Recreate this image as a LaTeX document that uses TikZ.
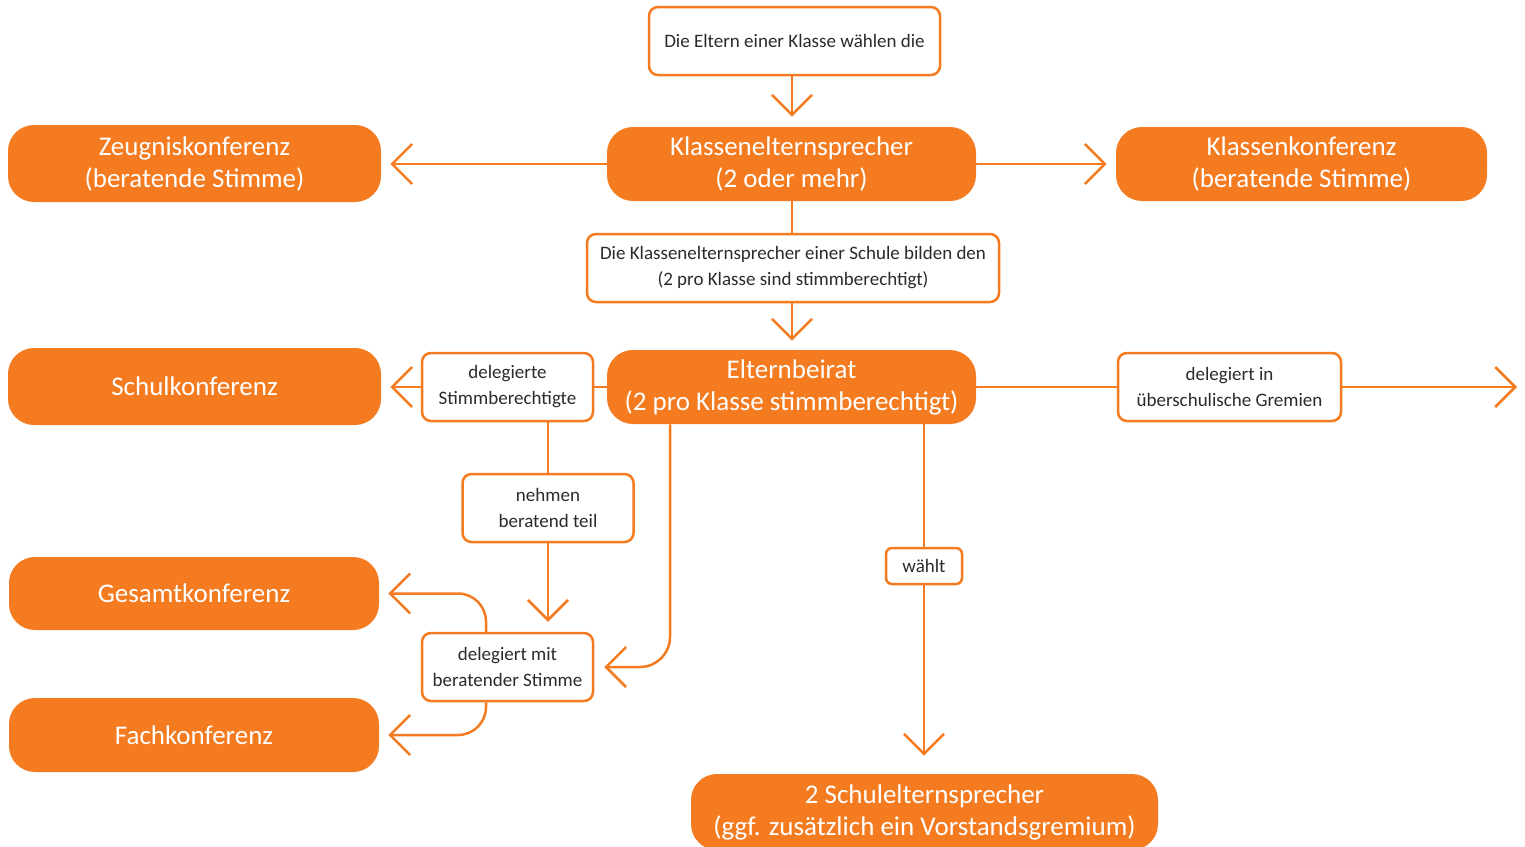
\documentclass[tikz,border=0pt]{standalone}
\usepackage{fontspec}
\setmainfont{Carlito}
\usetikzlibrary{arrows.meta}
\definecolor{org}{HTML}{F47B20}
\definecolor{txt}{HTML}{2B2B2B}
\begin{document}
\begin{tikzpicture}[x=0.5pt,y=-0.5pt,
  big/.style={fill=org, draw=none, rounded corners=13pt, text=white, font=\fontsize{13.5}{16}\selectfont, align=center, inner sep=0pt},
  small/.style={draw=org, line width=1.25pt, rounded corners=4.5pt, fill=white, text=txt, font=\fontsize{9.5}{13}\selectfont, align=center, inner sep=0pt},
  ln/.style={draw=org, line width=1.25pt},
  arr/.style={ln, -{Straight Barb[length=10pt,width=20pt]}, shorten >=4.5pt}]
\clip (0,0) rectangle (1525,846);
\fill[white] (0,0) rectangle (1525,846);
% nodes
\node[small, minimum width=145.5pt, minimum height=34pt] (top) at (794.5,41) {Die Eltern einer Klasse wählen die};
\node[big, minimum width=184.5pt, minimum height=37pt] (kes) at (791.5,164) {Klassenelternsprecher\\(2 oder mehr)};
\node[big, minimum width=186.5pt, minimum height=38.5pt] (zk) at (194.5,163.5) {Zeugniskonferenz\\(beratende Stimme)};
\node[big, minimum width=185.5pt, minimum height=37pt] (kk) at (1301.5,164) {Klassenkonferenz\\(beratende Stimme)};
\node[small, minimum width=206pt, minimum height=34pt] (sb) at (793,268) {Die Klassenelternsprecher einer Schule bilden den\\(2 pro Klasse sind stimmberechtigt)};
\node[big, minimum width=184.5pt, minimum height=37pt] (eb) at (791.5,387) {Elternbeirat\\(2 pro Klasse stimmberechtigt)};
\node[big, minimum width=186.5pt, minimum height=38.5pt] (sk) at (194.5,386.5) {Schulkonferenz};
\node[small, minimum width=85.5pt, minimum height=34pt] (ds) at (507.5,387) {delegierte\\Stimmberechtigte};
\node[small, minimum width=85.5pt, minimum height=34pt] (nb) at (548,508) {nehmen\\beratend teil};
\node[small, minimum width=85.5pt, minimum height=34pt] (dm) at (507.5,667) {delegiert mit\\beratender Stimme};
\node[big, minimum width=185pt, minimum height=36.5pt] (gk) at (194,593.5) {Gesamtkonferenz};
\node[big, minimum width=185pt, minimum height=37pt] (fk) at (194,735) {Fachkonferenz};
\node[small, minimum width=38pt, minimum height=18pt, rounded corners=3pt] (wa) at (924,566) {wählt};
\node[big, minimum width=233.5pt, minimum height=38pt] (se) at (924.5,812) {2 Schulelternsprecher\\(ggf. zusätzlich ein Vorstandsgremium)};
\node[small, minimum width=111.5pt, minimum height=34pt] (du) at (1229.5,387) {delegiert in\\überschulische Gremien};
\coordinate (mx) at (792,0);
\coordinate (ebx) at (670,0);
\coordinate (dmx) at (486,0);
\coordinate (wx) at (924,0);
\coordinate (far) at (1517,387);
% connectors
\draw[arr, shorten >=5pt] (top.south -| mx) -- (kes.north -| mx);
\draw[arr] (kes.west) -- (kes.west -| zk.east);
\draw[arr] (kes.east) -- (kes.east -| kk.west);
\draw[ln] (kes.south -| mx) -- (sb.north -| mx);
\draw[arr] (sb.south -| mx) -- (eb.north -| mx);
\draw[ln] (eb.west) -- (ds.east);
\draw[arr] (ds.west) -- (ds.west -| sk.east);
\draw[ln] (ds.south -| nb.north) -- (nb.north);
\draw[arr, shorten >=5pt] (nb.south) -- (nb.south |- dm.north);
\draw[arr, rounded corners=15pt, shorten >=5pt] (eb.south -| ebx) |- (dm.east);
\draw[arr, rounded corners=14pt] (dm.north -| dmx) |- (gk.east);
\draw[arr, rounded corners=14pt] (dm.south -| dmx) |- (fk.east);
\draw[ln] (eb.south -| wx) -- (wa.north);
\draw[arr, shorten >=9pt] (wa.south) -- (wa.south |- se.north);
\draw[ln] (eb.east) -- (du.west);
\draw[ln, -{Straight Barb[length=10pt,width=20pt]}] (du.east) -- (far);
\end{tikzpicture}
\end{document}
